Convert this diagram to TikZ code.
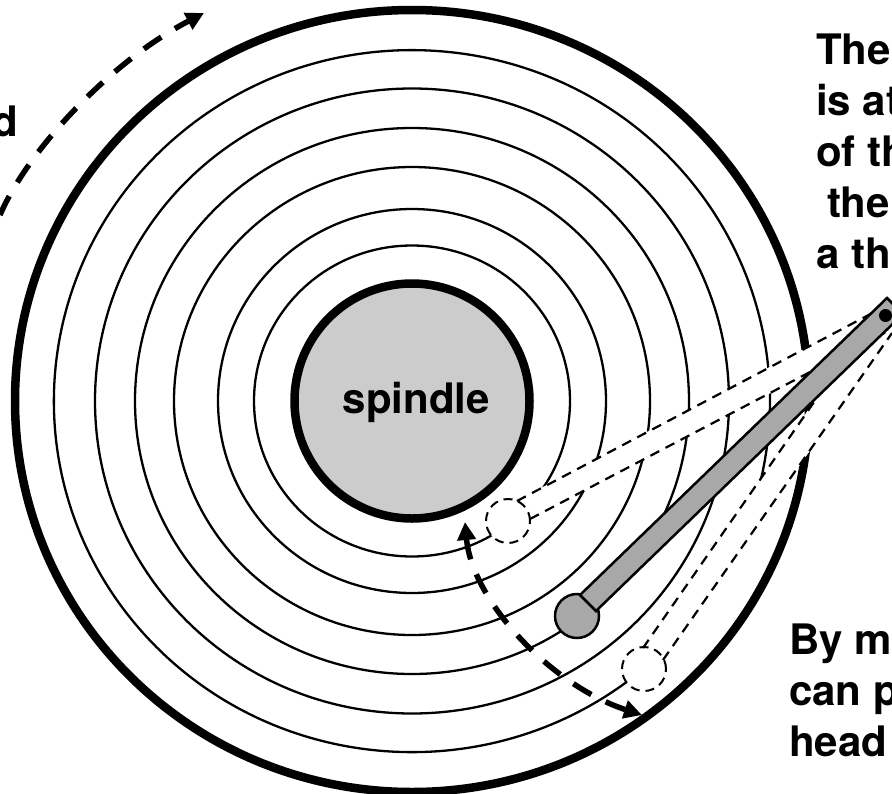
\documentclass[tikz,border=0pt]{standalone}
\usepackage{fontspec}
\setmainfont{TeX Gyre Heros}
\usetikzlibrary{arrows.meta, positioning}
\definecolor{armgray}{gray}{0.66}
\definecolor{spindlegray}{gray}{0.8}

\begin{document}
\begin{tikzpicture}[
    x=1pt, y=-1pt,
    every node/.style={font=\fontsize{42}{51}\selectfont\bfseries, inner sep=0pt, outer sep=0pt},
    track/.style={draw, line width=2.3pt},
    ring/.style={draw, line width=8.5pt},
    spindledisc/.style={circle, draw, line width=8.5pt, fill=spindlegray, minimum size=235pt},
    ghosthead/.style={circle, draw, line width=2pt, dash pattern=on 9pt off 6pt, fill=white, minimum size=44pt},
    armhead/.style={circle, draw, line width=2.5pt, fill=armgray, minimum size=44pt},
    ghostarm/.style={line width=2.2pt, dash pattern=on 10pt off 7pt},
    mask/.style={fill=white, draw=white, line width=0.5pt},
    moveline/.style={line width=5.5pt, dash pattern=on 21pt off 16pt, {Triangle[length=18pt,width=18pt]}-{Triangle[length=18pt,width=18pt]}},
    spinline/.style={line width=5.5pt, dash pattern=on 21pt off 16pt, -{Triangle[length=18pt,width=18pt]}},
    sidetext/.style={align=left, anchor=north west}
  ]
  \useasboundingbox (0,0) rectangle (892,793);
  \clip (0,0) rectangle (892,793);
  \fill[white] (0,0) rectangle (892,793);

  % --- Platter ---
  \coordinate (center) at (412,401);
  \draw[ring] (center) ellipse[x radius=397, y radius=391];
  \foreach \rx/\ry in {317/312.5, 277/273, 238/234, 194/192, 158/155.5}
    \draw[track] (center) ellipse[x radius=\rx, y radius=\ry];
  % --- Outermost track, two pieces ---
  \draw[track] (642,670) arc[start angle=50, end angle=356, x radius=358, y radius=351];
  \draw[track] (769.5,382.6) arc[start angle=-3, end angle=14, x radius=358, y radius=351];

  \node[spindledisc] (spindle) at (center) {};
  \node (spindlelabel) at (416.5,402) {spindle};

  % --- Ghost arm corners ---
  \coordinate (innerA) at (517,501);
  \coordinate (innerB) at (530,519);
  \coordinate (innerC) at (878,310);
  \coordinate (innerD) at (890,330);
  \coordinate (outerA) at (643,648);
  \coordinate (outerB) at (663,660);
  \coordinate (outerC) at (885,300);
  \coordinate (outerD) at (892,333);

  % --- Masks ---
  \path[mask] (innerA) -- (innerC) -- (innerD) -- (innerB) -- cycle;
  \path[mask] (outerA) -- (outerC) -- (outerD) -- (outerB) -- cycle;

  % --- Ghost positions ---
  \node[ghosthead] (headin) at (508,521) {};
  \node[ghosthead] (headout) at (644,669) {};
  \draw[ghostarm] (innerA) -- (innerC);
  \draw[ghostarm] (innerB) -- (innerD);
  \draw[ghostarm] (outerA) -- (outerC);
  \draw[ghostarm] (outerB) -- (outerD);

  % --- Arm ---
  \node[armhead] (head) at (577,616) {};
  \coordinate (armA) at (580,595);
  \coordinate (armB) at (596,611);
  \coordinate (armC) at (903,314);
  \coordinate (armD) at (887,298);
  \draw[line width=2.5pt, fill=armgray] (armA) -- (armB) -- (armC) -- (armD) -- cycle;
  \node[circle, fill=black, minimum size=13pt] (pivot) at (885.5,315.5) {};

  % --- Arrows ---
  \coordinate (seekin) at (465,522);
  \coordinate (seekout) at (642,715);
  \draw[moveline] (seekin) .. controls (472,600) and (550,685) .. (seekout);
  \coordinate (spinstart) at (0,215);
  \coordinate (spinend) at (204,13);
  \draw[spinline] (spinstart) .. controls (28,150) and (110,62) .. (spinend);

  % --- Text ---
  \node[anchor=base east] (spinlabel) at (18,136) {d};
  \node[sidetext] (headtext) at (816,34) {The\\is at\\of th\\\hspace*{11pt}the\\a th};
  \node[sidetext] (movetext) at (789,624) {By m\\can p\\head};

\end{tikzpicture}
\end{document}
